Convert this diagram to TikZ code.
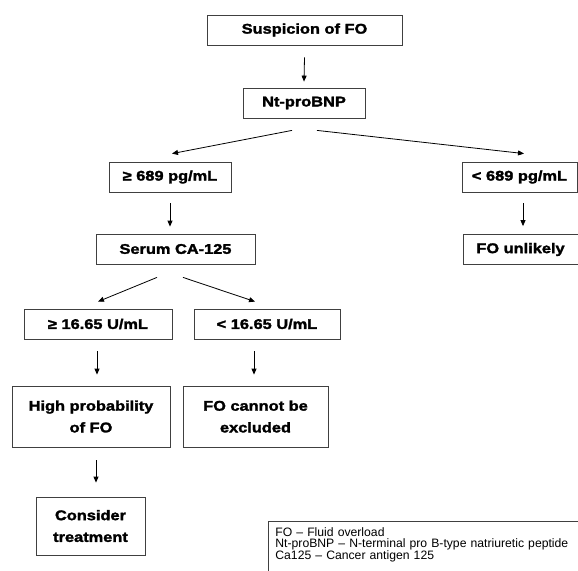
\documentclass[tikz,border=0pt]{standalone}
\usepackage{fontspec}
\setmainfont{Liberation Sans}
\newfontfamily\boxfont{Liberation Sans}[FakeStretch=1.17,BoldFeatures={FakeBold=2}]
\usetikzlibrary{arrows.meta}

\begin{document}
\begin{tikzpicture}[
    x=1pt,y=-1pt,
    Box/.style={draw=black!75,line width=0.8pt,align=center,inner sep=0pt,minimum height=30pt,
      font=\boxfont\bfseries\fontsize{14}{21.7}\selectfont},
    Key/.style={draw=black!75,line width=0.8pt,align=left,anchor=north west,inner xsep=7pt,inner ysep=6pt,
      text width=300pt,text depth=40pt,font=\fontsize{12.2}{11}\selectfont},
    Arrow/.style={-{Triangle[length=6pt,width=5pt]},line width=0.8pt},
    ]
    \useasboundingbox (0,0) rectangle (578,570);

    \node[Box,minimum width=195pt] at (304.5,30)  (Susp)  {Suspicion of FO};
    \node[Box,minimum width=122pt] at (304,103)   (NT)    {Nt-proBNP};
    \node[Box,minimum width=122pt] at (170,177)   (Hi)    {≥ 689 pg/mL};
    \node[Box,minimum width=115pt] at (519.5,177) (Lo)    {< 689 pg/mL};
    \node[Box,minimum width=159pt] at (175.5,249) (CA)    {Serum CA-125};
    \node[Box,minimum width=115pt] at (520.5,249.5) (Unl) {FO unlikely};
    \node[Box,minimum width=148pt] at (98,324)    (HiCA)  {≥ 16.65 U/mL};
    \node[Box,minimum width=146pt] at (267,324)   (LoCA)  {< 16.65 U/mL};
    \node[Box,minimum width=158pt,minimum height=61pt] at (91,416.5)    (Prob)  {High probability\\of FO};
    \node[Box,minimum width=145pt,minimum height=61pt] at (255.5,416.5) (Excl)  {FO cannot be\\excluded};
    \node[Box,minimum width=109pt,minimum height=58pt] at (90.5,526)    (Treat) {Consider\\treatment};

    \node[Key] at (268,521) (Key) {FO -- Fluid overload\\Nt-proBNP -- N-terminal pro B-type natriuretic peptide\\Ca125 -- Cancer antigen 125};

    \draw[Arrow] ([shift={(0,12)}]Susp.south)  -- ([shift={(0,-6)}]NT.north);
    \draw[Arrow] ([shift={(-12,12)}]NT.south)  -- ([shift={(2,-8)}]Hi.north);
    \draw[Arrow] ([shift={(13,12)}]NT.south)   -- ([shift={(4.5,-8)}]Lo.north);
    \draw[Arrow] ([shift={(0,11)}]Hi.south)    -- ([shift={(-5.5,-7)}]CA.north);
    \draw[Arrow] ([shift={(3.5,11)}]Lo.south)  -- ([shift={(2.5,-8)}]Unl.north);
    \draw[Arrow] ([shift={(-18.5,13)}]CA.south) -- ([shift={(0,-7)}]HiCA.north);
    \draw[Arrow] ([shift={(7.5,13)}]CA.south)  -- ([shift={(-12,-7)}]LoCA.north);
    \draw[Arrow] ([shift={(-1,12)}]HiCA.south) -- ([shift={(6,-11)}]Prob.north);
    \draw[Arrow] ([shift={(-13,12)}]LoCA.south) -- ([shift={(-1.5,-11)}]Excl.north);
    \draw[Arrow] ([shift={(5,13)}]Prob.south)  -- ([shift={(5.5,-14)}]Treat.north);
  \end{tikzpicture}
\end{document}
